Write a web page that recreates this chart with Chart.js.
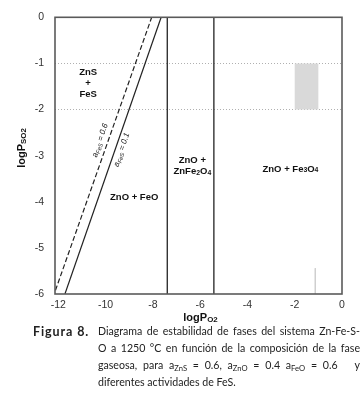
<!DOCTYPE html>
<html>
<head>
<meta charset="utf-8">
<script src="https://cdn.jsdelivr.net/npm/chart.js@4.4.0/dist/chart.umd.min.js"></script>
<style>
  body { margin: 0; background: #fff; }
  #wrap { position: relative; width: 364px; height: 400px; }
  canvas { position: absolute; left: 0; top: 0; }
  .cap { position: absolute; top: 323px; left: 0; width: 364px; font-family: Lato, "Open Sans", sans-serif; font-size: 10.6px; line-height: 17px; color: #222; }
  .cap .lab { position: absolute; left: 33px; top: 0; font-weight: bold; font-size: 12.5px; letter-spacing: 0.9px; line-height: 17px; }
  .cap .txt { position: absolute; left: 98px; top: 0; width: 262px; }
  .cap .txt div { text-align: justify; text-align-last: justify; white-space: nowrap; }
  .cap .txt div.last { text-align: left; text-align-last: left; }
  .cap sub { font-size: 0.72em; line-height: 0; vertical-align: -0.25em; }
</style>
</head>
<body>
<div id="wrap">
  <canvas id="chart" width="364" height="325"></canvas>
  <div class="cap">
    <div class="lab">Figura 8.</div>
    <div class="txt">
      <div>Diagrama de estabilidad de fases del sistema Zn-Fe-S-</div>
      <div>O a 1250 °C en función de la composición de la fase</div>
      <div>gaseosa, para a<sub>ZnS</sub> = 0.6, a<sub>ZnO</sub> = 0.4 a<sub>FeO</sub> = 0.6 &nbsp; y</div>
      <div class="last">diferentes actividades de FeS.</div>
    </div>
  </div>
</div>
<script>
// axis ticks
const xTicks = [-12, -10, -8, -6, -4, -2, 0];
const yTicks = [0, -1, -2, -3, -4, -5, -6];

// boundary lines [logPO2, logPSO2]
const lineFeS06 = [[-12.12, -5.92], [-8.05, 0]];
const lineFeS01 = [[-11.72, -6], [-7.65, 0]];
const lineFeOZnFe2O4 = [[-7.39, -6], [-7.39, 0]];
const lineZnFe2O4Fe3O4 = [[-5.42, -6], [-5.42, 0]];
const shadedBox = [[-2, -1], [-1, -1], [-1, -2], [-2, -2], [-2, -1]];
const faintMark = [[-1.13, -5.44], [-1.13, -6]];

// field labels: each line is a list of [text, isSubscript]
const fieldLabels = [
  { x: -10.74, y: -1.44, lines: [[['ZnS', 0]], [['+', 0]], [['FeS', 0]]] },
  { x: -8.79, y: -3.9, lines: [[['ZnO + FeO', 0]]] },
  { x: -6.33, y: -3.23, lines: [[['ZnO +', 0]], [['ZnFe', 0], ['2', 1], ['O', 0], ['4', 1]]] },
  { x: -2.18, y: -3.29, lines: [[['ZnO + Fe', 0], ['3', 1], ['O', 0], ['4', 1]]] }
];
const activityLabels = [
  { x: -10.23, y: -2.67, parts: [['a', 0], ['FeS', 1], [' = 0.6', 0]] },
  { x: -9.32, y: -2.875, parts: [['a', 0], ['FeS', 1], [' = 0.1', 0]] }
];

const FONT = '"Liberation Sans", Arial, sans-serif';
const pts = a => a.map(([x, y]) => ({ x: x, y: y }));

function drawRich(ctx, parts, cx, cy, size, style, subDrop) {
  const drop = subDrop === undefined ? 0.28 : subDrop;
  let total = 0;
  const widths = parts.map(([t, sub]) => {
    ctx.font = style + ' ' + (sub ? size * 0.72 : size) + 'px ' + FONT;
    const w = ctx.measureText(t).width;
    total += w;
    return w;
  });
  let x = cx - total / 2;
  ctx.textAlign = 'left';
  ctx.textBaseline = 'middle';
  parts.forEach(([t, sub], i) => {
    ctx.font = style + ' ' + (sub ? size * 0.72 : size) + 'px ' + FONT;
    ctx.fillText(t, x, cy + (sub ? size * drop : 0));
    x += widths[i];
  });
}

const overlay = {
  id: 'overlay',
  afterDraw(chart) {
    const ctx = chart.ctx, a = chart.chartArea;
    const xs = chart.scales.x, ys = chart.scales.y;
    ctx.save();
    ctx.strokeStyle = '#5a5a5a';
    ctx.lineWidth = 1.6;
    ctx.strokeRect(a.left, a.top, a.right - a.left, a.bottom - a.top);

    ctx.fillStyle = '#111';
    fieldLabels.forEach(l => {
      const px = xs.getPixelForValue(l.x), py = ys.getPixelForValue(l.y);
      const n = l.lines.length;
      l.lines.forEach((parts, i) => {
        drawRich(ctx, parts, px, py + (i - (n - 1) / 2) * 11, 9.5, 'bold', 0.15);
      });
    });

    activityLabels.forEach(l => {
      const px = xs.getPixelForValue(l.x), py = ys.getPixelForValue(l.y);
      ctx.save();
      ctx.translate(px, py);
      ctx.rotate(-71.5 * Math.PI / 180);
      drawRich(ctx, l.parts, 0, 0, 8, 'italic');
      ctx.restore();
    });

    // axis titles
    ctx.fillStyle = '#111';
    drawRich(ctx, [['logP', 0], ['O2', 1]], (a.left + a.right) / 2 + 2, 318, 11, 'bold', 0.15);
    ctx.save();
    ctx.translate(22, 148);
    ctx.rotate(-Math.PI / 2);
    drawRich(ctx, [['logP', 0], ['SO2', 1]], 0, 0, 11, 'bold', 0.15);
    ctx.restore();
    ctx.restore();
  }
};

const lineStyle = { showLine: true, pointRadius: 0, borderColor: '#222', borderWidth: 1.2, fill: false };

new Chart(document.getElementById('chart'), {
  type: 'scatter',
  data: {
    datasets: [
      { data: pts(shadedBox), showLine: true, pointRadius: 0, borderWidth: 0, borderColor: 'rgba(0,0,0,0)', backgroundColor: '#d9d9d9', fill: 'shape' },
      { data: pts(faintMark), showLine: true, pointRadius: 0, borderColor: '#cfcfcf', borderWidth: 1 },
      Object.assign({ data: pts(lineFeS06), borderDash: [5, 2.5] }, lineStyle),
      Object.assign({ data: pts(lineFeS01) }, lineStyle),
      Object.assign({ data: pts(lineFeOZnFe2O4) }, lineStyle, { borderColor: '#333', borderWidth: 1.4 }),
      Object.assign({ data: pts(lineZnFe2O4Fe3O4) }, lineStyle, { borderColor: '#333', borderWidth: 1.4 })
    ]
  },
  options: {
    responsive: false,
    animation: false,
    layout: { padding: { left: 0, top: 6, right: 22, bottom: 0 } },
    plugins: { legend: { display: false }, tooltip: { enabled: false } },
    scales: {
      x: {
        type: 'linear', min: -12.14, max: 0,
        afterBuildTicks: s => { s.ticks = xTicks.map(v => ({ value: v })); },
        afterFit: s => { s.height = 31; },
        grid: { display: false, drawTicks: false },
        border: { display: false },
        ticks: { color: '#333', font: { family: FONT, size: 10.5 }, padding: 5, maxRotation: 0, autoSkip: false }
      },
      y: {
        type: 'linear', min: -6, max: 0,
        afterBuildTicks: s => { s.ticks = yTicks.map(v => ({ value: v })); },
        afterFit: s => { s.width = 55; },
        grid: {
          drawTicks: false,
          color: c => (c.tick && (c.tick.value === -1 || c.tick.value === -2)) ? '#b0b0b0' : 'rgba(0,0,0,0)',
          lineWidth: 1
        },
        border: { display: false, dash: [1, 2] },
        ticks: { color: '#333', font: { family: FONT, size: 10.5 }, padding: 11, autoSkip: false }
      }
    }
  },
  plugins: [overlay]
});
</script>
</body>
</html>
